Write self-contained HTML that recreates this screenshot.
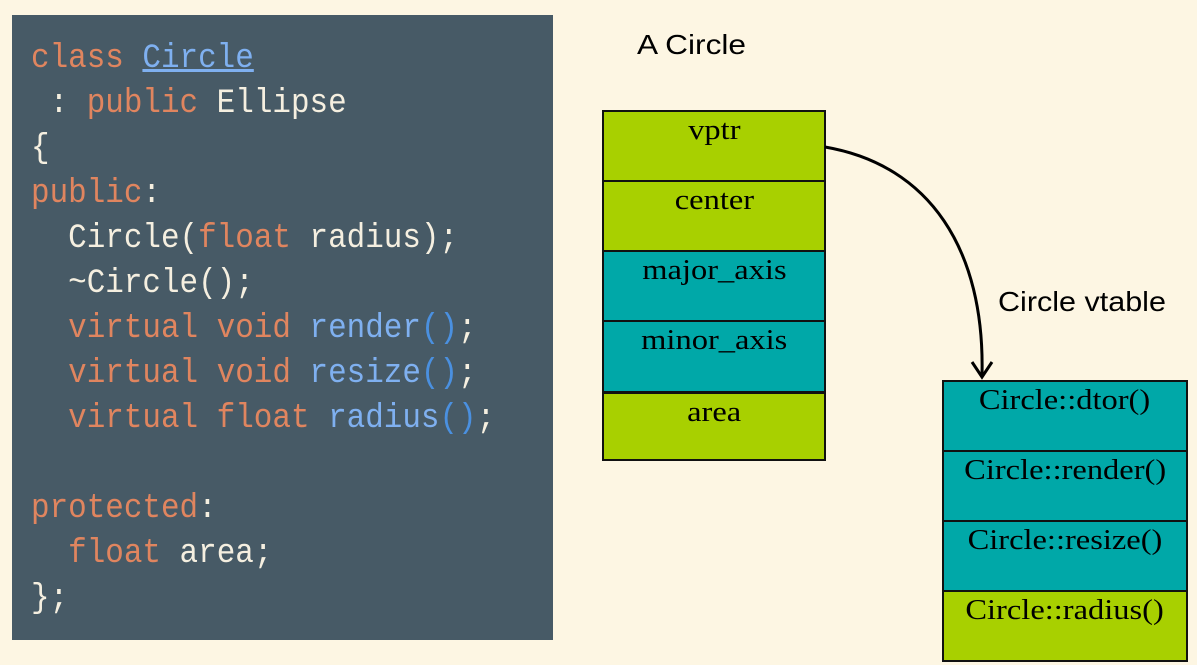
<!DOCTYPE html>
<html><head><style>
body{margin:0;width:1197px;height:665px;background:#fdf6e3;position:relative;overflow:hidden}
#code{position:absolute;left:12px;top:15px;width:541px;height:625px;background:#475a66}
.l{position:absolute;left:19px;font:34px/1 "Liberation Mono",monospace;color:#f5efe0;white-space:pre;transform:scaleX(0.91);transform-origin:0 0}
.k{color:#e0855f}.b{color:#7fb0f0}.p{color:#4a90e0}
.c{position:absolute;box-sizing:border-box;border:2px solid #111;text-align:center;font:29px/1.1 "Liberation Serif",serif;color:#000;padding-top:3px}
.c span{display:inline-block;transform:scaleX(1.12)}
.g{background:#a8d000}.t{background:#00a8a8}
.lab{position:absolute;font:28px "Liberation Sans",sans-serif;color:#000;transform-origin:0 0}
</style></head><body>
<div id="code">
<div class="l" style="top:27px"><span class="k">class</span> <span class="b" style="text-decoration:underline">Circle</span></div>
<div class="l" style="top:72px"> : <span class="k">public</span> Ellipse</div>
<div class="l" style="top:117px">{</div>
<div class="l" style="top:162px"><span class="k">public</span>:</div>
<div class="l" style="top:207px">  Circle(<span class="k">float</span> radius);</div>
<div class="l" style="top:252px">  ~Circle();</div>
<div class="l" style="top:297px">  <span class="k">virtual void</span> <span class="b">render</span><span class="p">()</span>;</div>
<div class="l" style="top:342px">  <span class="k">virtual void</span> <span class="b">resize</span><span class="p">()</span>;</div>
<div class="l" style="top:387px">  <span class="k">virtual float</span> <span class="b">radius</span><span class="p">()</span>;</div>
<div class="l" style="top:477px"><span class="k">protected</span>:</div>
<div class="l" style="top:522px">  <span class="k">float</span> area;</div>
<div class="l" style="top:567px">};</div>
</div>
<div class="lab" style="left:637px;top:29px;transform:scaleX(1.13)">A Circle</div>
<div class="lab" style="left:998px;top:286px;transform:scaleX(1.09)">Circle vtable</div>
<div class="c g" style="left:602px;top:110px;width:224px;height:72px"><span>vptr</span></div>
<div class="c g" style="left:602px;top:180px;width:224px;height:72px"><span>center</span></div>
<div class="c t" style="left:602px;top:250px;width:224px;height:72px"><span>major_axis</span></div>
<div class="c t" style="left:602px;top:320px;width:224px;height:73px"><span>minor_axis</span></div>
<div class="c g" style="left:602px;top:391px;width:224px;height:70px;border-top-width:3px"><span>area</span></div>
<div class="c t" style="left:942px;top:380px;width:246px;height:72px"><span>Circle::dtor()</span></div>
<div class="c t" style="left:942px;top:450px;width:246px;height:72px"><span>Circle::render()</span></div>
<div class="c t" style="left:942px;top:520px;width:246px;height:72px"><span>Circle::resize()</span></div>
<div class="c g" style="left:942px;top:590px;width:246px;height:72px"><span>Circle::radius()</span></div>
<svg style="position:absolute;left:0;top:0" width="1197" height="665">
<path d="M825,147 C930,165 985,250 982,375" fill="none" stroke="#000" stroke-width="3"/>
<path d="M972,362 L982,377 L992,362" fill="none" stroke="#000" stroke-width="3"/>
</svg>
</body></html>
